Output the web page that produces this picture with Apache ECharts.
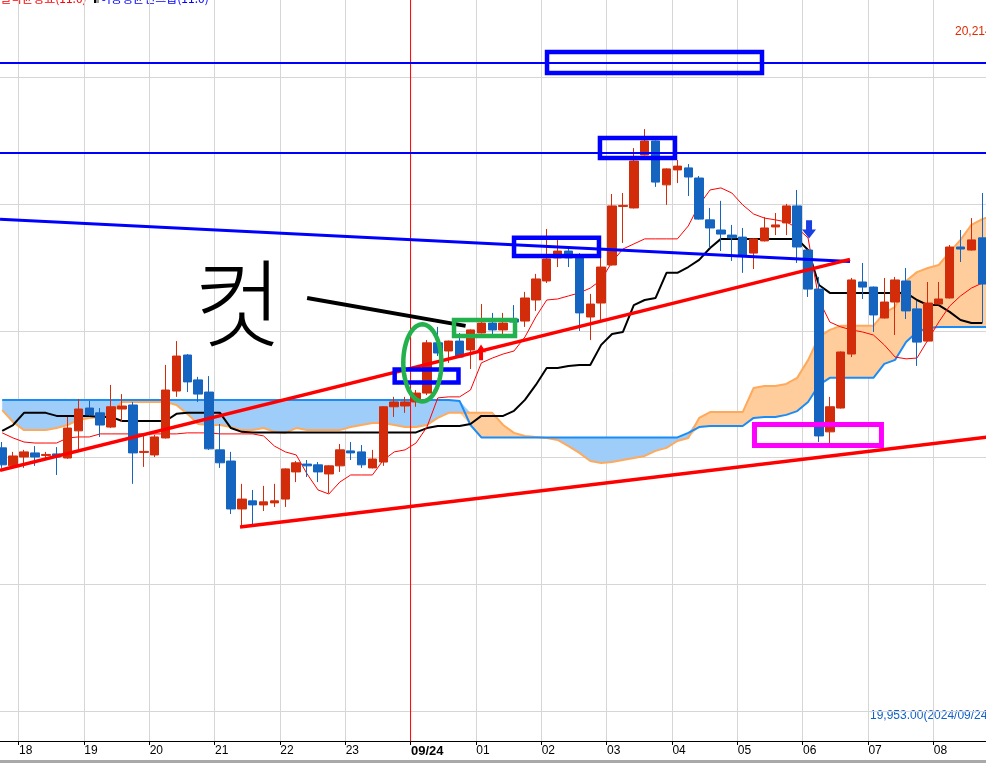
<!DOCTYPE html>
<html><head><meta charset="utf-8">
<script src="https://cdn.jsdelivr.net/npm/echarts@6/dist/echarts.min.js"></script>
<style>html,body{margin:0;padding:0;background:#fff;overflow:hidden}#c{width:986px;height:763px}</style>
</head><body><div id="c"></div>
<script>
// ---------- categories (10-minute bars) ----------
const firstBars = ['17:40', '17:50'];
const hours = ['18','19','20','21','22','23','00','01','02','03','04','05','06','07','08'];
const hourLabels = ['18','19','20','21','22','23','09/24','01','02','03','04','05','06','07','08'];
const minutes = ['00','10','20','30','40','50'];

// ---------- candles ----------
const open = [20053.8,20046.7,20050.2,20051.8,20050.8,20051.4,20049.8,20060.5,20069.5,20067.6,
 20062.0,20069.1,20070.7,20052.0,20051.0,20057.7,20076.2,20090.4,20080.6,20075.8,
 20053.0,20048.6,20029.7,20032.9,20031.3,20032.1,20033.6,20044.3,20047.4,20047.1,
 20043.5,20046.7,20052.6,20052.2,20045.9,20048.2,20070.0,20070.3,20071.9,20075.4,
 20095.2,20092.0,20095.9,20092.4,20099.1,20103.0,20100.3,20104.6,20103.8,20112.1,
 20119.6,20128.7,20131.4,20128.7,20105.4,20110.9,20125.9,20149.0,20148.4,20169.3,
 20174.8,20157.5,20163.4,20164.2,20160.2,20143.7,20139.7,20137.7,20136.9,20130.6,
 20135.4,20140.9,20142.5,20149.2,20131.8,20116.4,20060.1,20069.5,20090.8,20119.2,
 20117.2,20105.0,20111.3,20119.6,20108.6,20095.9,20110.5,20112.9,20133.0,20131.8,
 20136.6];
const close = [20047.1,20050.6,20052.2,20050.2,20051.2,20050.2,20061.6,20069.1,20066.8,20062.8,
 20070.0,20070.3,20051.8,20052.4,20058.1,20076.6,20090.0,20079.8,20075.0,20053.4,
 20047.9,20029.7,20033.6,20031.3,20032.5,20032.9,20045.5,20047.9,20046.7,20044.3,
 20046.7,20053.0,20051.8,20047.1,20049.4,20070.0,20071.9,20071.9,20075.4,20095.2,
 20091.2,20095.9,20089.6,20100.3,20103.0,20100.3,20103.0,20103.4,20112.9,20120.4,
 20128.3,20131.4,20128.7,20107.0,20110.5,20125.1,20149.2,20149.4,20166.9,20174.8,
 20158.6,20163.8,20164.9,20160.6,20144.0,20140.5,20138.1,20136.6,20129.8,20136.2,
 20140.5,20141.7,20149.2,20133.0,20116.4,20058.5,20070.0,20091.6,20120.0,20117.2,
 20106.2,20111.3,20120.0,20107.8,20095.5,20110.9,20112.5,20133.0,20132.2,20135.8,
 20118.4];
const low = [20045.9,20045.9,20045.9,20046.7,20049.0,20043.1,20049.5,20052.2,20066.5,20058.1,
 20061.6,20064.0,20039.6,20046.3,20050.2,20057.5,20073.9,20075.8,20071.9,20053.0,
 20045.9,20027.7,20022.2,20023.4,20028.9,20030.5,20030.5,20040.3,20042.3,20040.3,
 20036.0,20044.3,20049.0,20045.9,20045.7,20046.7,20066.0,20067.6,20070.0,20074.6,
 20090.0,20087.3,20089.4,20084.9,20098.9,20098.3,20098.7,20102.2,20101.5,20107.8,
 20118.8,20125.1,20125.1,20099.9,20096.3,20104.2,20125.7,20134.6,20148.2,20169.1,
 20156.7,20149.6,20158.2,20153.1,20143.8,20132.6,20131.4,20127.5,20122.8,20124.3,
 20135.2,20137.7,20137.7,20126.7,20113.3,20056.1,20054.1,20069.3,20089.6,20112.5,
 20099.5,20104.8,20098.3,20104.6,20086.1,20095.7,20110.3,20112.7,20127.1,20131.6,
 20103.0];
const high = [20056.1,20052.2,20053.0,20054.5,20052.2,20054.1,20066.0,20073.1,20072.3,20069.5,
 20078.6,20075.0,20071.9,20058.9,20058.9,20086.5,20095.9,20090.8,20081.8,20082.1,
 20063.2,20052.2,20039.6,20037.2,20038.8,20039.6,20045.7,20048.6,20049.0,20048.2,
 20046.9,20055.3,20056.1,20054.9,20053.0,20070.2,20073.9,20073.9,20076.6,20096.3,
 20101.5,20096.1,20099.1,20100.5,20110.5,20107.0,20107.0,20110.1,20115.3,20122.4,
 20140.1,20135.8,20133.4,20130.6,20114.5,20129.1,20153.9,20154.3,20172.0,20179.5,
 20175.0,20164.0,20167.3,20165.7,20161.0,20148.4,20151.2,20141.7,20140.5,20136.4,
 20144.8,20146.4,20150.0,20155.5,20132.0,20121.2,20073.9,20091.8,20120.8,20126.7,
 20117.4,20120.8,20121.2,20124.7,20111.7,20119.2,20119.2,20133.8,20139.7,20144.4,
 20154.3];

// ---------- Ichimoku lines ----------
const tenkan = [20059.7,20057.7,20056.1,20055.7,20055.7,20055.7,20057.7,20058.1,20058.1,20059.3,
 20059.3,20059.3,20059.3,20059.3,20059.3,20059.3,20059.3,20059.7,20059.7,20059.7,
 20059.3,20059.3,20059.3,20059.3,20058.5,20054.5,20052.2,20051.0,20043.5,20037.2,
 20035.6,20040.3,20043.1,20043.1,20043.1,20049.0,20052.2,20053.0,20055.7,20062.0,
 20073.5,20073.9,20073.9,20076.6,20087.3,20089.2,20090.8,20092.0,20097.5,20105.4,
 20112.1,20112.5,20113.7,20114.9,20116.8,20120.0,20127.1,20132.2,20134.2,20136.2,
 20136.2,20136.2,20136.2,20141.3,20149.6,20155.5,20156.3,20154.3,20149.6,20146.0,
 20144.4,20143.7,20142.9,20140.5,20136.6,20112.1,20103.4,20101.5,20100.3,20099.5,
 20098.3,20094.4,20089.6,20088.9,20089.2,20096.3,20103.4,20109.7,20113.7,20116.8,
 20118.8];
const kijun = [20060.5,20062.8,20067.6,20067.6,20067.6,20066.4,20066.4,20066.4,20066.4,20066.0,
 20066.0,20064.4,20064.4,20064.4,20064.4,20064.4,20067.2,20067.6,20067.6,20067.6,
 20067.6,20061.6,20060.1,20059.9,20059.9,20059.9,20059.9,20059.9,20059.9,20059.9,
 20059.9,20059.9,20059.9,20059.9,20059.9,20059.9,20059.9,20059.9,20059.9,20061.6,
 20062.4,20062.4,20062.4,20063.2,20066.4,20066.4,20066.4,20068.4,20072.7,20078.6,
 20085.3,20085.3,20086.1,20086.5,20086.5,20094.4,20098.7,20099.5,20110.1,20112.1,
 20112.9,20122.8,20122.8,20125.1,20127.9,20132.6,20136.2,20136.2,20136.2,20136.2,
 20136.2,20136.2,20136.2,20136.2,20131.8,20118.0,20114.9,20114.9,20114.9,20114.9,
 20114.9,20114.9,20114.9,20114.9,20112.1,20110.1,20110.1,20107.4,20104.2,20103.0,
 20103.0];
const spanA = [20068.7,20064.0,20060.8,20060.8,20060.8,20061.6,20062.8,20064.8,20065.6,20066.0,
 20067.2,20071.9,20071.9,20071.9,20071.9,20071.9,20070.7,20067.2,20063.2,20062.8,
 20062.8,20062.0,20060.8,20060.8,20061.6,20060.1,20059.7,20061.6,20060.8,20060.8,
 20060.8,20060.8,20062.0,20062.8,20063.6,20063.6,20062.8,20062.0,20062.0,20062.8,
 20065.6,20067.6,20067.6,20067.6,20067.6,20067.6,20062.8,20059.7,20058.5,20058.1,
 20057.7,20056.9,20054.5,20051.8,20048.6,20047.8,20048.2,20049.0,20049.8,20050.6,
 20052.6,20053.8,20056.5,20057.7,20065.6,20067.9,20067.9,20067.9,20067.9,20077.4,
 20078.2,20078.2,20079.0,20081.4,20088.4,20097.5,20100.3,20101.9,20101.9,20101.9,
 20101.9,20107.0,20109.4,20119.6,20123.1,20124.7,20125.9,20131.0,20135.8,20141.7,
 20144.0,20145.6];
const spanB = [20072.7,20072.7,20072.7,20072.7,20072.7,20072.7,20072.7,20072.7,20072.7,20072.7,
 20072.7,20072.7,20072.7,20072.7,20072.7,20072.7,20072.7,20072.7,20072.7,20072.7,
 20072.7,20072.7,20072.7,20072.7,20072.7,20072.7,20072.7,20072.7,20072.7,20072.7,
 20072.7,20072.7,20072.7,20072.7,20072.7,20072.7,20072.7,20072.7,20072.7,20072.7,
 20072.7,20072.7,20072.3,20062.8,20057.9,20057.9,20057.9,20057.9,20057.9,20057.9,
 20057.9,20057.9,20057.9,20057.9,20057.9,20057.9,20057.9,20057.9,20057.9,20057.9,
 20057.9,20057.9,20057.9,20059.7,20062.0,20062.4,20062.4,20062.4,20062.4,20065.6,
 20066.0,20066.0,20066.8,20068.3,20071.9,20078.6,20081.4,20081.4,20081.4,20081.4,
 20081.4,20086.9,20088.5,20095.5,20099.5,20101.1,20101.5,20101.5,20101.5,20101.5,
 20101.5,20101.5];

// ---------- reference levels & drawings (bar index, price) ----------
const gridPrices = [19950, 20000, 20050, 20100, 20150, 20200];
const dayBreak = 37.5;
const blueLevels = [20205.6, 20170.1];
const blueTrend = [[-0.2, 20143.9], [77.85, 20127.3]];
const redTrendUpper = [[-0.2, 20044.9], [77.85, 20128.1]];
const redTrendLower = [[21.84, 20022.6], [91.5, 20058.6]];
const pointerLine = [[28.0, 20112.9], [42.55, 20101.9]];
const blueBoxes = [
  [50.03, 20209.9, 69.77, 20201.6],
  [54.89, 20176.0, 61.78, 20168.1],
  [47.0, 20136.6, 54.8, 20129.5],
  [36.04, 20084.7, 41.9, 20079.6]
];
const greenBoxes = [[41.49, 20104.2, 47.09, 20097.9]];
const magentaBoxes = [[69.08, 20063.0, 80.74, 20054.7]];
const greenEllipse = [[38.58, 20087.3, 1.75, 15.2]];
const upArrows = [[43.97, 20088.3, 20094.6]];
const downArrows = [[74.09, 20143.5, 20136.4]];
const handNote = [[21.65, 20111.3, '컷']];

// ---------- build ----------
const categories = firstBars.slice();
hours.forEach(h => minutes.forEach(m => categories.push(h + ':' + m)));
const N = categories.length;
const candles = open.map((o, i) => [o, close[i], low[i], high[i]]);
const cloudBase = spanA.map((a, i) => Math.min(a, spanB[i]));
const cloudUp = spanA.map((a, i) => Math.max(0, a - spanB[i]));
const cloudDown = spanA.map((a, i) => Math.max(0, spanB[i] - a));
const isHour = (v) => String(v).endsWith(':00');
const FONT = 'Liberation Sans, Arial, sans-serif';
const Y_MIN = 19938.2, Y_MAX = 20230.4;

const chart = echarts.init(document.getElementById('c'), null, {renderer: 'canvas'});
const BW = 10.89;
const gridLeft = 2.2 - BW / 2;

function rectRenderer(color, lw) {
  return function (params, api) {
    const a = api.coord([api.value(0), api.value(1)]);
    const b = api.coord([api.value(2), api.value(3)]);
    return {type: 'rect', shape: {x: Math.min(a[0], b[0]), y: Math.min(a[1], b[1]),
      width: Math.abs(b[0] - a[0]), height: Math.abs(b[1] - a[1])},
      style: {fill: 'none', stroke: color, lineWidth: lw}};
  };
}
function lineSeries(pts, color, width, z) {
  return {type: 'line', xAxisIndex: 1, yAxisIndex: 0, data: pts, symbol: 'none', silent: true,
    lineStyle: {color: color, width: width}, z: z || 5, animation: false};
}

const series = [
  { // horizontal grid lines
    type: 'custom', xAxisIndex: 1, yAxisIndex: 0, z: 0, silent: true,
    data: gridPrices.map(p => [-0.5, p]),
    renderItem: (params, api) => {
      const a = api.coord([-0.5, api.value(1)]);
      const b = api.coord([N - 0.5, api.value(1)]);
      return {type: 'line', shape: {x1: a[0], y1: Math.round(a[1]) + 0.5, x2: b[0], y2: Math.round(b[1]) + 0.5},
        style: {stroke: '#d6d6d6', lineWidth: 1}};
    }
  },
  {type: 'line', data: cloudBase, stack: 'cloud', symbol: 'none', silent: true, lineStyle: {width: 0, opacity: 0}, z: 1},
  {type: 'line', data: cloudUp, stack: 'cloud', symbol: 'none', silent: true, lineStyle: {width: 0, opacity: 0},
    areaStyle: {color: '#ffcd9c', opacity: 1}, z: 1},
  {type: 'line', data: cloudDown, stack: 'cloud', symbol: 'none', silent: true, lineStyle: {width: 0, opacity: 0},
    areaStyle: {color: '#9fcdfa', opacity: 1}, z: 1},
  {type: 'line', data: spanA, symbol: 'none', silent: true, lineStyle: {color: '#ffa95c', width: 2}, z: 2},
  {type: 'line', data: spanB, symbol: 'none', silent: true, lineStyle: {color: '#1b8cf5', width: 2}, z: 2},
  lineSeries([[dayBreak, Y_MIN], [dayBreak, Y_MAX]], '#ff0000', 1, 2),
  {type: 'line', data: kijun, symbol: 'none', silent: true, lineStyle: {color: '#000000', width: 2}, z: 3},
  {type: 'line', data: tenkan, symbol: 'none', silent: true, lineStyle: {color: '#ff0000', width: 1}, z: 3},
  {type: 'candlestick', data: candles, barWidth: 9, silent: true, z: 4,
    itemStyle: {color: '#d22c0b', color0: '#1464c0', borderColor: '#d22c0b', borderColor0: '#1464c0', borderWidth: 1}},
];
blueLevels.forEach(p => series.push(lineSeries([[-0.5, p], [N - 0.5, p]], '#0000ff', 2)));
series.push(lineSeries(blueTrend, '#0000ff', 3));
series.push(lineSeries(redTrendUpper, '#ff0000', 3.5));
series.push(lineSeries(redTrendLower, '#ff0000', 3.5));
series.push(lineSeries(pointerLine, '#000000', 4));
series.push({type: 'custom', xAxisIndex: 1, yAxisIndex: 0, z: 6, silent: true, data: blueBoxes,
  encode: {x: [0, 2], y: [1, 3]}, renderItem: rectRenderer('#0000ff', 4.5)});
series.push({type: 'custom', xAxisIndex: 1, yAxisIndex: 0, z: 6, silent: true, data: greenBoxes,
  encode: {x: [0, 2], y: [1, 3]}, renderItem: rectRenderer('#22b14c', 4.5)});
series.push({type: 'custom', xAxisIndex: 1, yAxisIndex: 0, z: 6, silent: true, data: magentaBoxes,
  encode: {x: [0, 2], y: [1, 3]}, renderItem: rectRenderer('#ff00ff', 5)});
series.push({type: 'custom', xAxisIndex: 1, yAxisIndex: 0, z: 6, silent: true, data: greenEllipse,
  renderItem: (params, api) => {
    const c = api.coord([api.value(0), api.value(1)]);
    const e = api.coord([api.value(0) + api.value(2), api.value(1) + api.value(3)]);
    const rx = Math.abs(e[0] - c[0]), ry = Math.abs(e[1] - c[1]);
    const pts = [];
    for (let i = 0; i < 72; i++) { const t = i / 72 * Math.PI * 2; pts.push([c[0] + rx * Math.cos(t), c[1] + ry * Math.sin(t)]); }
    return {type: 'polygon', shape: {points: pts}, style: {fill: 'none', stroke: '#22b14c', lineWidth: 4.5}};
  }});
function arrowRenderer(color, shaftW, headW) {
  return function (params, api) {
    const tail = api.coord([api.value(0), api.value(1)]);
    const tip = api.coord([api.value(0), api.value(2)]);
    const x = tail[0];
    const dir = tip[1] < tail[1] ? -1 : 1;
    const len = Math.abs(tip[1] - tail[1]);
    const headL = len * 0.5;
    const neck = tip[1] - dir * headL;
    return {type: 'polygon', shape: {points: [
      [x - shaftW / 2, tail[1]], [x + shaftW / 2, tail[1]], [x + shaftW / 2, neck], [x + headW / 2, neck],
      [x, tip[1]], [x - headW / 2, neck], [x - shaftW / 2, neck]]}, style: {fill: color}};
  };
}
series.push({type: 'custom', xAxisIndex: 1, yAxisIndex: 0, z: 6, silent: true, data: upArrows,
  renderItem: arrowRenderer('#ff0000', 4, 10)});
series.push({type: 'custom', xAxisIndex: 1, yAxisIndex: 0, z: 6, silent: true, data: downArrows,
  renderItem: arrowRenderer('#1a3fe0', 6, 14)});
series.push({type: 'custom', xAxisIndex: 1, yAxisIndex: 0, z: 6, silent: true,
  data: handNote.map(d => [d[0], d[1]]),
  renderItem: (params, api) => {
    const c = api.coord([api.value(0), api.value(1)]);
    return {type: 'text', x: c[0], y: c[1], style: {text: handNote[params.dataIndex][2], fill: '#000',
      font: '300 96px "Noto Sans CJK KR", sans-serif', align: 'center', verticalAlign: 'middle'}};
  }});

const option = {
  animation: false,
  backgroundColor: '#ffffff',
  grid: {left: gridLeft, top: 0, width: BW * N, height: 741, containLabel: false, outerBoundsMode: 'none'},
  xAxis: [
    {type: 'category', data: categories, boundaryGap: true,
      axisLine: {show: true, lineStyle: {color: '#000', width: 1}},
      axisTick: {show: true, interval: (i, v) => isHour(v), length: 4, lineStyle: {color: '#000'}},
      splitLine: {show: true, interval: (i, v) => isHour(v), lineStyle: {color: '#d6d6d6', width: 1}},
      axisLabel: {show: true, interval: (i, v) => isHour(v), align: 'left', margin: 4, padding: [0, 0, 0, -5],
        color: '#000', fontFamily: FONT, fontSize: 12,
        formatter: (v, i) => { const t = hourLabels[(i - firstBars.length) / minutes.length]; return t === '09/24' ? '{b|' + t + '}' : t; },
        rich: {b: {fontWeight: 'bold', fontSize: 13, fontFamily: FONT, color: '#000'}}}
    },
    {type: 'value', min: -0.5, max: N - 0.5, show: false}
  ],
  yAxis: [{type: 'value', min: Y_MIN, max: Y_MAX, show: false, splitLine: {show: false}}],
  series: series,
  graphic: [
    {type: 'text', left: 0, top: -8, style: {text: '일목균형표(11:0)', fill: '#ff0000', font: '12px "Noto Sans CJK KR", sans-serif'}},
    {type: 'rect', shape: {x: 94, y: 0, width: 5, height: 3}, style: {fill: '#000'}},
    {type: 'rect', shape: {x: 96, y: 0, width: 3, height: 3}, style: {fill: '#999'}},
    {type: 'text', left: 100, top: -8, style: {text: '이동평균선그룹(11:0)', fill: '#0000ff', font: '12px "Noto Sans CJK KR", sans-serif'}},
    {type: 'text', x: 955, y: 32, style: {text: '20,214', fill: '#e02a00', font: '12px ' + FONT, verticalAlign: 'middle'}},
    {type: 'text', x: 870, y: 716, style: {text: '19,953.00(2024/09/24)', fill: '#1060c8', font: '12px ' + FONT, verticalAlign: 'middle'}},
    {type: 'rect', shape: {x: 0, y: 760, width: 986, height: 3}, style: {fill: '#a9a9a9'}}
  ]
};
chart.setOption(option);
</script>
</body></html>
